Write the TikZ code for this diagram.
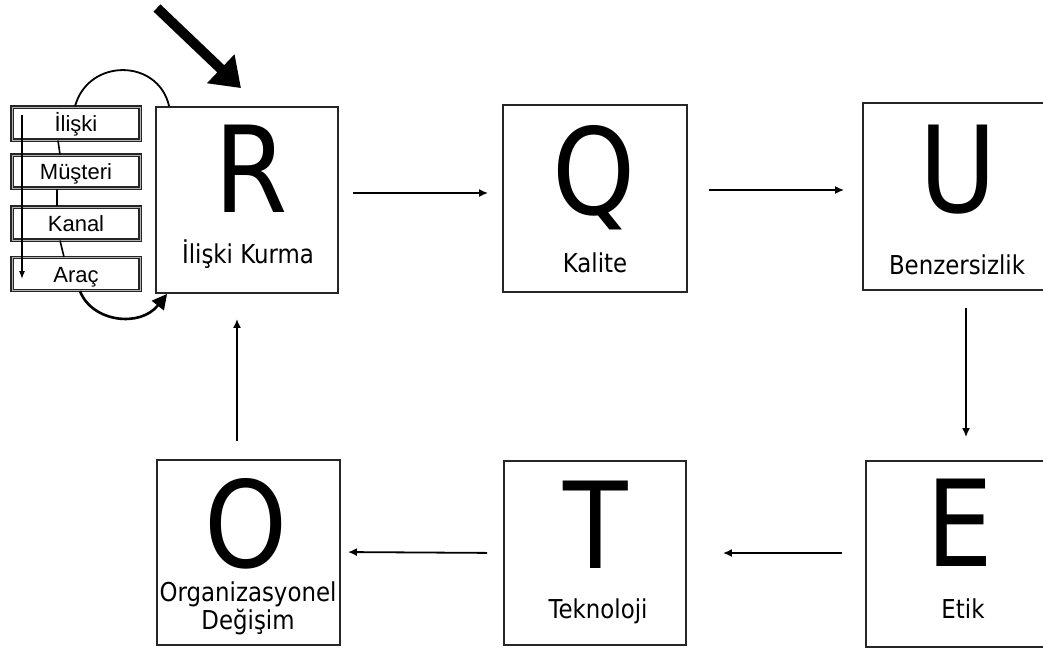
\documentclass[tikz,border=0pt]{standalone}
\usepackage{fontspec}
\usetikzlibrary{arrows.meta}
\newfontfamily\tahfont{DejaVu Sans}[FakeStretch=0.88]
\newfontfamily\arialfont{Liberation Sans}

\begin{document}
\begin{tikzpicture}[x=1pt,y=-1pt,
  bigbox/.style={draw=black!85, line width=1.8pt, inner sep=0pt},
  letter/.style={anchor=base, inner sep=0pt, font=\tahfont\fontsize{120}{120}\selectfont},
  caption/.style={anchor=base, inner sep=0pt, font=\tahfont\fontsize{26}{28}\selectfont},
  tab/.style={draw=black!85, double=black!30, double distance=0.7pt, line width=1.2pt,
    minimum width=128pt, minimum height=33pt, inner sep=0pt,
    text height=16pt, text depth=0pt, font=\arialfont\fontsize{22}{24}\selectfont},
  flow/.style={line width=1.8pt, -{Latex[length=9pt,width=8pt]}},
  link/.style={line width=1.6pt},
]
\useasboundingbox (0,0) rectangle (1043,648);
\clip (0,0) rectangle (1043,648);

% the six R-Q-U-E-T-O boxes
\node[bigbox, minimum width=182pt, minimum height=186pt] (R) at (247,200) {};
\node[bigbox, minimum width=184pt, minimum height=187pt] (Q) at (595,198.5) {};
\node[bigbox, minimum width=182pt, minimum height=187pt] (U) at (954,196.5) {};
\node[bigbox, minimum width=183pt, minimum height=185pt] (O) at (248.5,552.5) {};
\node[bigbox, minimum width=182pt, minimum height=184pt] (T) at (595,553) {};
\node[bigbox, minimum width=182pt, minimum height=186pt] (E) at (957,554) {};

% initials
\node[letter] (Rl) at (251,212) {R};
\node[letter] (Ql) at (594,214) {Q};
\node[letter] (Ul) at (958,212) {U};
\node[letter] (Ol) at (246,567) {O};
\node[letter] (Tl) at (596,568) {T};
\node[letter] (El) at (960,566) {E};

% captions
\node[caption] (Rc) at (248,263) {İlişki Kurma};
\node[caption] (Qc) at (595,272) {Kalite};
\node[caption] (Uc) at (957,274) {Benzersizlik};
\node[caption, anchor=north, align=center] (Oc) at (248,582) {Organizasyonel\\Değişim};
\node[caption] (Tc) at (598,618) {Teknoloji};
\node[caption] (Ec) at (963,618) {Etik};

% cycle arrows
\draw[flow, shorten <=14pt, shorten >=14pt] ([yshift=7pt]R.east) -- ([yshift=5.5pt]Q.west);
\draw[flow, shorten <=21pt, shorten >=18pt] ([yshift=8.5pt]Q.east) -- ([yshift=6.5pt]U.west);
\draw[flow, shorten <=17pt, shorten >=23pt] ([xshift=12pt]U.south) -- ([xshift=9pt]E.north);
\draw[flow, shorten <=23pt, shorten >=36pt] ([yshift=1pt]E.west) -- (T.east);
\draw[flow, shorten <=16pt, shorten >=7pt] (T.west) -- ([yshift=0.5pt]O.east);
\draw[flow, shorten <=18pt, shorten >=25pt] ([xshift=-11.5pt]O.north) -- ([xshift=-10pt]R.south);

% stacked tabs of the relationship step
\node[tab] (s1) at (76,123.5) {İlişki};
\node[tab] (s2) at (76,171.5) {Müşteri};
\node[tab] (s3) at (76,223.5) {Kanal};
\node[tab] (s4) at (76,274) {Araç};

\draw[link] ([xshift=-18pt]s1.south) -- ([xshift=-16pt]s2.north);
\draw[link] ([xshift=-19pt]s2.south) -- ([xshift=-19pt]s3.north);
\draw[link] ([xshift=-16pt]s3.south) -- ([xshift=-12pt]s4.north);

\coordinate (down1) at (22,115);
\coordinate (down2) at (22,279);
\draw[line width=1.3pt, -{Latex[length=8pt,width=6pt]}] (down1) -- (down2);

% loops between the tabs and the R box
\draw[line width=1.8pt] ([xshift=-1pt]s1.north) .. controls (88,58) and (158,58) .. ([xshift=14pt]R.north west);
\draw[line width=2.6pt, -{Triangle[length=15pt,width=15pt]}] ([xshift=4pt]s4.south) .. controls (92,322) and (140,328) .. ([xshift=12pt]R.south west);

% entry arrow
\coordinate (push) at (157,8);
\draw[line width=10pt, -{Triangle[length=28pt,width=38pt]}] (push) -- ([xshift=-6pt,yshift=18pt]R.north);
\end{tikzpicture}
\end{document}
